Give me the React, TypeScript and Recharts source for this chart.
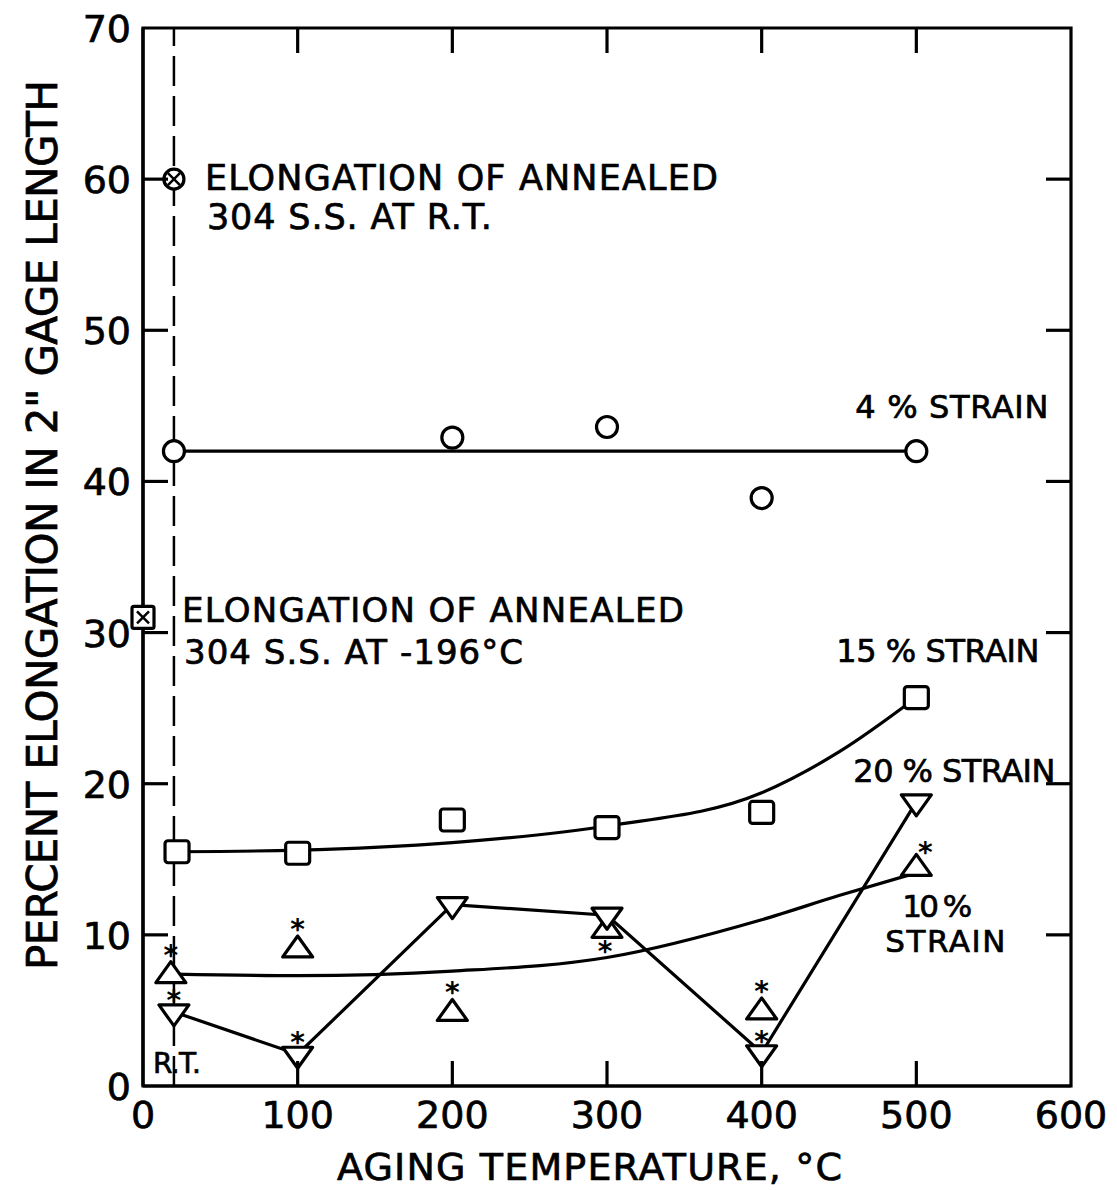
import { ComposedChart, Line, XAxis, YAxis, ReferenceLine, ReferenceDot, ReferenceArea } from 'recharts';

const FONT = '"DejaVu Sans", sans-serif';

// axis ticks
const xTicks = [0, 100, 200, 300, 400, 500, 600];
const yTicks = [0, 10, 20, 30, 40, 50, 60, 70];

// room temperature (dashed line)
const RT = 20;

// reference elongations of annealed 304 S.S.
const annealedRT = { t: [20], v: [60] };
const annealedCryo = { t: [0], v: [31] };

// 4 % strain (circles) and its horizontal line
const circleTemps = [20, 200, 300, 400, 500];
const circleVals = [42.0, 42.9, 43.6, 38.9, 42.0];
const line4Temps = [20, 500];
const line4Vals = [42.0, 42.0];

// 15 % strain (squares) + fitted curve
const squareTemps = [22, 100, 200, 300, 400, 500];
const squareVals = [15.5, 15.4, 17.6, 17.1, 18.1, 25.7];
const fit15Temps = [22, 100, 200, 300, 400, 450, 500];
const fit15Vals = [15.5, 15.6, 16.1, 17.2, 19.4, 22.1, 25.7];

// 10 % strain (up triangles) + fitted curve
const up10Temps = [18, 100, 200, 300, 400, 500];
const up10Vals = [7.3, 9.0, 4.8, 10.3, 4.9, 14.4];
const up10Star = [true, true, true, true, true, true];
const fit10Temps = [20, 100, 200, 300, 400, 450, 500];
const fit10Vals = [7.4, 7.3, 7.6, 8.5, 11.0, 12.6, 14.1];

// 20 % strain (down triangles), straight segments
const down20Temps = [20, 100, 200, 300, 400, 500];
const down20Vals = [4.9, 2.1, 12.0, 11.3, 2.2, 18.8];
const down20Star = [true, true, false, false, true, false];

const rows = (ts: number[], vs: number[]) => ts.map((t, i) => ({ t, v: vs[i] }));
const last = (a: number[]) => a[a.length - 1];

const W = 1117;
const H = 1190;
const M = { top: 28, right: 46, bottom: 0, left: 0 };
const X_AXIS_H = 104;
const Y_AXIS_W = 143;
const PLOT_W = W - M.left - M.right - Y_AXIS_W;
const PLOT_H = H - M.top - M.bottom - X_AXIS_H;

const TICK = 25;
const SW = 3.2;
const TXT = { fontFamily: FONT, fill: '#000', stroke: '#000', strokeWidth: 0.7 };

function Star({ x, y }: { x: number; y: number }) {
  return (
    <text x={x} y={y + 16} textAnchor="middle" fontSize={28} fontWeight="bold" fontFamily={FONT} fill="#000">
      *
    </text>
  );
}

function CircleMark({ cx, cy }: any) {
  return <circle cx={cx} cy={cy} r={10.5} fill="#fff" stroke="#000" strokeWidth={SW} />;
}

function SquareMark({ cx, cy }: any) {
  return <rect x={cx - 12} y={cy - 11} width={24} height={22} rx={3} fill="#fff" stroke="#000" strokeWidth={SW} />;
}

function CrossCircle({ cx, cy }: any) {
  const d = 6;
  return (
    <g>
      <circle cx={cx} cy={cy} r={10} fill="#fff" stroke="#000" strokeWidth={SW} />
      <line x1={cx - d} y1={cy - d} x2={cx + d} y2={cy + d} stroke="#000" strokeWidth={2.5} />
      <line x1={cx - d} y1={cy + d} x2={cx + d} y2={cy - d} stroke="#000" strokeWidth={2.5} />
    </g>
  );
}

function CrossSquare({ cx, cy }: any) {
  const d = 6;
  return (
    <g>
      <rect x={cx - 11} y={cy - 11} width={22} height={22} rx={2} fill="#fff" stroke="#000" strokeWidth={SW} />
      <line x1={cx - d} y1={cy - d} x2={cx + d} y2={cy + d} stroke="#000" strokeWidth={2.5} />
      <line x1={cx - d} y1={cy + d} x2={cx + d} y2={cy - d} stroke="#000" strokeWidth={2.5} />
    </g>
  );
}

function UpTri({ cx, cy, index }: any) {
  const star = up10Star[index];
  let sx = cx, sy = cy - 27;
  if (index === 3) { sx = cx - 2; sy = cy + 15; }
  if (index === 5) { sx = cx + 9; sy = cy - 22; }
  return (
    <g>
      <polygon points={`${cx},${cy - 14} ${cx - 15},${cy + 7} ${cx + 15},${cy + 7}`} fill="#fff" stroke="#000" strokeWidth={SW} strokeLinejoin="round" />
      {star && <Star x={sx} y={sy} />}
    </g>
  );
}

function DownTri({ cx, cy, index }: any) {
  const star = down20Star[index];
  return (
    <g>
      <polygon points={`${cx - 15},${cy - 7} ${cx + 15},${cy - 7} ${cx},${cy + 14}`} fill="#fff" stroke="#000" strokeWidth={SW} strokeLinejoin="round" />
      {star && <Star x={cx} y={cy - 18} />}
    </g>
  );
}

const dotOf = (Shape: any) => (p: any) => <Shape key={`d${p.index}`} cx={p.cx} cy={p.cy} index={p.index} />;

function Lines({ cx, cy, lines, size }: any) {
  return (
    <g>
      {lines.map((l: any, i: number) => (
        <text key={i} x={cx + l.dx} y={cy + l.dy} fontSize={size} {...TXT}
          textLength={l.w} lengthAdjust="spacing">
          {l.text}
        </text>
      ))}
    </g>
  );
}

// bottom ticks also draw the matching inward tick on the top frame
function BottomTick({ x, y, payload }: any) {
  const v = payload.value;
  const inner = v > xTicks[0] && v < last(xTicks);
  return (
    <g>
      {inner && <line x1={x} x2={x} y1={y} y2={y - TICK} stroke="#000" strokeWidth={SW} />}
      {inner && <line x1={x} x2={x} y1={y - PLOT_H} y2={y - PLOT_H + TICK} stroke="#000" strokeWidth={SW} />}
      <text x={x} y={y + 42} textAnchor="middle" fontSize={38} {...TXT}>{v}</text>
    </g>
  );
}

// left ticks also draw the matching inward tick on the right frame
function LeftTick({ x, y, payload }: any) {
  const v = payload.value;
  const inner = v > yTicks[0] && v < last(yTicks);
  return (
    <g>
      {inner && <line x1={x} x2={x + TICK} y1={y} y2={y} stroke="#000" strokeWidth={SW} />}
      {inner && <line x1={x + PLOT_W} x2={x + PLOT_W - TICK} y1={y} y2={y} stroke="#000" strokeWidth={SW} />}
      <text x={x - 12} y={y + 14} textAnchor="end" fontSize={38} {...TXT}>{v}</text>
    </g>
  );
}

function YTitle({ viewBox }: any) {
  const x = viewBox.x + 57;
  const y = 525;
  return (
    <text x={x} y={y} transform={`rotate(-90, ${x}, ${y})`} textAnchor="middle" fontSize={42} {...TXT}
      textLength={890} lengthAdjust="spacing">
      PERCENT ELONGATION IN 2" GAGE LENGTH
    </text>
  );
}

function XTitle({ viewBox }: any) {
  return (
    <text x={337} y={viewBox.y + 94} fontSize={38} {...TXT} textLength={505} lengthAdjust="spacing">
      AGING TEMPERATURE, °C
    </text>
  );
}

const axisLine = { stroke: '#000', strokeWidth: SW };

export default function App() {
  return (
    <div style={{ position: 'absolute', left: 0, top: 0, width: W, height: H, background: '#fff' }}>
      <ComposedChart width={W} height={H} margin={M}>
        <XAxis dataKey="t" type="number" domain={[xTicks[0], last(xTicks)]} ticks={xTicks} height={X_AXIS_H} tickSize={0} tickMargin={0}
          axisLine={axisLine} tickLine={false} tick={BottomTick} interval={0} label={<XTitle />} />
        <YAxis dataKey="v" type="number" domain={[yTicks[0], last(yTicks)]} ticks={yTicks} width={Y_AXIS_W} tickSize={0} tickMargin={0}
          axisLine={axisLine} tickLine={false} tick={LeftTick} interval={0} label={<YTitle />} />

        {/* plot frame */}
        <ReferenceArea x1={xTicks[0]} x2={last(xTicks)} y1={yTicks[0]} y2={last(yTicks)} fill="none" fillOpacity={0}
          stroke="#000" strokeWidth={SW} ifOverflow="visible" />

        <ReferenceLine x={RT} stroke="#000" strokeWidth={2.5} strokeDasharray="30 10" />

        {/* fitted / connecting lines */}
        <Line data={rows(line4Temps, line4Vals)} dataKey="v" stroke="#000" strokeWidth={SW} dot={false} activeDot={false} isAnimationActive={false} />
        <Line data={rows(fit15Temps, fit15Vals)} dataKey="v" type="monotone" stroke="#000" strokeWidth={SW} dot={false} activeDot={false} isAnimationActive={false} />
        <Line data={rows(fit10Temps, fit10Vals)} dataKey="v" type="monotone" stroke="#000" strokeWidth={SW} dot={false} activeDot={false} isAnimationActive={false} />

        {/* markers */}
        <Line data={rows(circleTemps, circleVals)} dataKey="v" stroke="none" strokeWidth={0} dot={dotOf(CircleMark)} activeDot={false} isAnimationActive={false} />
        <Line data={rows(squareTemps, squareVals)} dataKey="v" stroke="none" strokeWidth={0} dot={dotOf(SquareMark)} activeDot={false} isAnimationActive={false} />
        <Line data={rows(up10Temps, up10Vals)} dataKey="v" stroke="none" strokeWidth={0} dot={dotOf(UpTri)} activeDot={false} isAnimationActive={false} />
        <Line data={rows(down20Temps, down20Vals)} dataKey="v" stroke="#000" strokeWidth={SW} dot={dotOf(DownTri)} activeDot={false} isAnimationActive={false} />
        <Line data={rows(annealedRT.t, annealedRT.v)} dataKey="v" stroke="none" strokeWidth={0} dot={dotOf(CrossCircle)} activeDot={false} isAnimationActive={false} />
        <Line data={rows(annealedCryo.t, annealedCryo.v)} dataKey="v" stroke="none" strokeWidth={0} dot={dotOf(CrossSquare)} activeDot={false} isAnimationActive={false} />

        {/* annotations */}
        <ReferenceDot x={annealedRT.t[0]} y={annealedRT.v[0]} r={0} stroke="none"
          shape={(p: any) => <Lines cx={p.cx} cy={p.cy} size={35} lines={[
            { text: 'ELONGATION OF ANNEALED', dx: 31, dy: 11, w: 513 },
            { text: '304 S.S. AT R.T.', dx: 33, dy: 50, w: 285 },
          ]} />} />
        <ReferenceDot x={annealedCryo.t[0]} y={annealedCryo.v[0]} r={0} stroke="none"
          shape={(p: any) => <Lines cx={p.cx} cy={p.cy} size={34} lines={[
            { text: 'ELONGATION OF ANNEALED', dx: 39, dy: 5, w: 502 },
            { text: '304 S.S. AT -196°C', dx: 41, dy: 47, w: 339 },
          ]} />} />
        <ReferenceDot x={last(circleTemps)} y={last(circleVals)} r={0} stroke="none"
          shape={(p: any) => <Lines cx={p.cx} cy={p.cy} size={32} lines={[
            { text: '4 % STRAIN', dx: -61, dy: -33, w: 193 },
          ]} />} />
        <ReferenceDot x={last(squareTemps)} y={last(squareVals)} r={0} stroke="none"
          shape={(p: any) => <Lines cx={p.cx} cy={p.cy} size={32} lines={[
            { text: '15 % STRAIN', dx: -80, dy: -36, w: 203 },
          ]} />} />
        <ReferenceDot x={last(down20Temps)} y={last(down20Vals)} r={0} stroke="none"
          shape={(p: any) => <Lines cx={p.cx} cy={p.cy} size={32} lines={[
            { text: '20 % STRAIN', dx: -63, dy: -20, w: 202 },
          ]} />} />
        <ReferenceDot x={last(up10Temps)} y={last(up10Vals)} r={0} stroke="none"
          shape={(p: any) => <Lines cx={p.cx} cy={p.cy} size={31} lines={[
            { text: '10 %', dx: -14, dy: 49, w: 70 },
            { text: 'STRAIN', dx: -31, dy: 84, w: 120 },
          ]} />} />
        <ReferenceDot x={RT} y={yTicks[0]} r={0} stroke="none"
          shape={(p: any) => <Lines cx={p.cx} cy={p.cy} size={28} lines={[
            { text: 'R.T.', dx: -21, dy: -13, w: 48 },
          ]} />} />
      </ComposedChart>
    </div>
  );
}
